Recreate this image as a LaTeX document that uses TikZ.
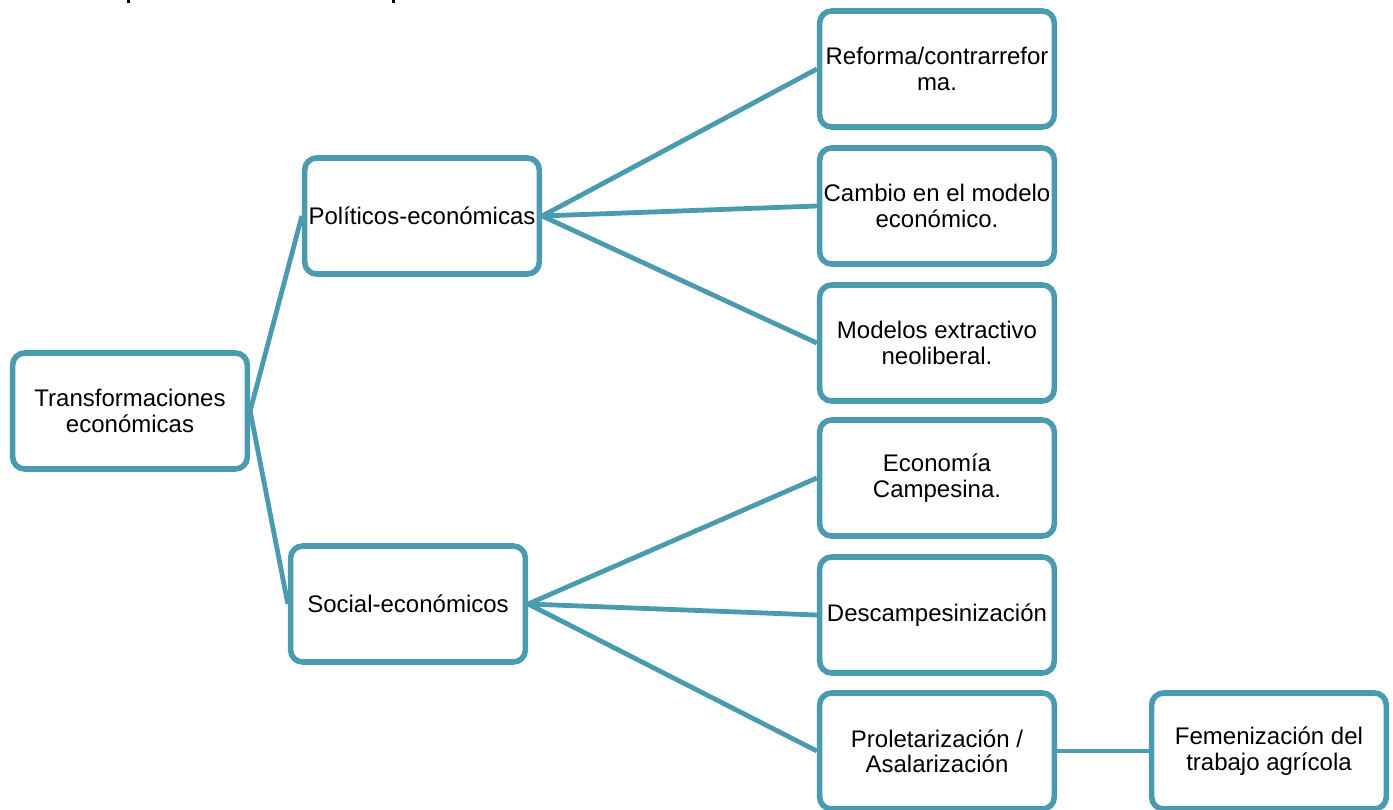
\documentclass[tikz,border=0pt]{standalone}
\usepackage{fontspec}
\setmainfont{Liberation Sans}
\definecolor{tealline}{RGB}{74,155,176}
\tikzset{
  mapbox/.style={draw=tealline, line width=4.2pt, rounded corners=9pt, fill=white,
    minimum width=176pt, minimum height=87pt, align=center, inner sep=0pt,
    font=\fontsize{18pt}{19pt}\selectfont},
  link/.style={draw=tealline, line width=3.6pt}
}
\begin{document}
\begin{tikzpicture}[x=0.75pt,y=-0.75pt]
\useasboundingbox (0,0) rectangle (1393,810);
% tiny remnants of a cut-off heading at the top edge
\fill[black] (127,0) rectangle (130,3);
\fill[black] (392,0) rectangle (395,3);
% nodes
\node[mapbox] (root) at (130,411) {Transformaciones\\económicas};
\node[mapbox] (pol) at (422,216) {Políticos-económicas};
\node[mapbox] (soc) at (408,604) {Social-económicos};
\node[mapbox] (ref) at (937,69) {Reforma/contrarrefor\\ma.};
\node[mapbox] (cam) at (937,206) {Cambio en el modelo\\económico.};
\node[mapbox] (mod) at (937,343) {Modelos extractivo\\neoliberal.};
\node[mapbox] (eco) at (937,478) {Economía\\Campesina.};
\node[mapbox] (des) at (937,615) {Descampesinización};
\node[mapbox] (pro) at (937,751) {Proletarización /\\Asalarización};
\node[mapbox] (fem) at (1269,751) {Femenización del\\trabajo agrícola};
% connectors
\begin{scope}[on background layer/.style={}]
\draw[link] (root.east) -- (pol.west);
\draw[link] (root.east) -- (soc.west);
\draw[link] (pol.east) -- (ref.west);
\draw[link] (pol.east) -- (cam.west);
\draw[link] (pol.east) -- (mod.west);
\draw[link] (soc.east) -- (eco.west);
\draw[link] (soc.east) -- (des.west);
\draw[link] (soc.east) -- (pro.west);
\draw[link] (pro.east) -- (fem.west);
\end{scope}
\end{tikzpicture}
\end{document}
